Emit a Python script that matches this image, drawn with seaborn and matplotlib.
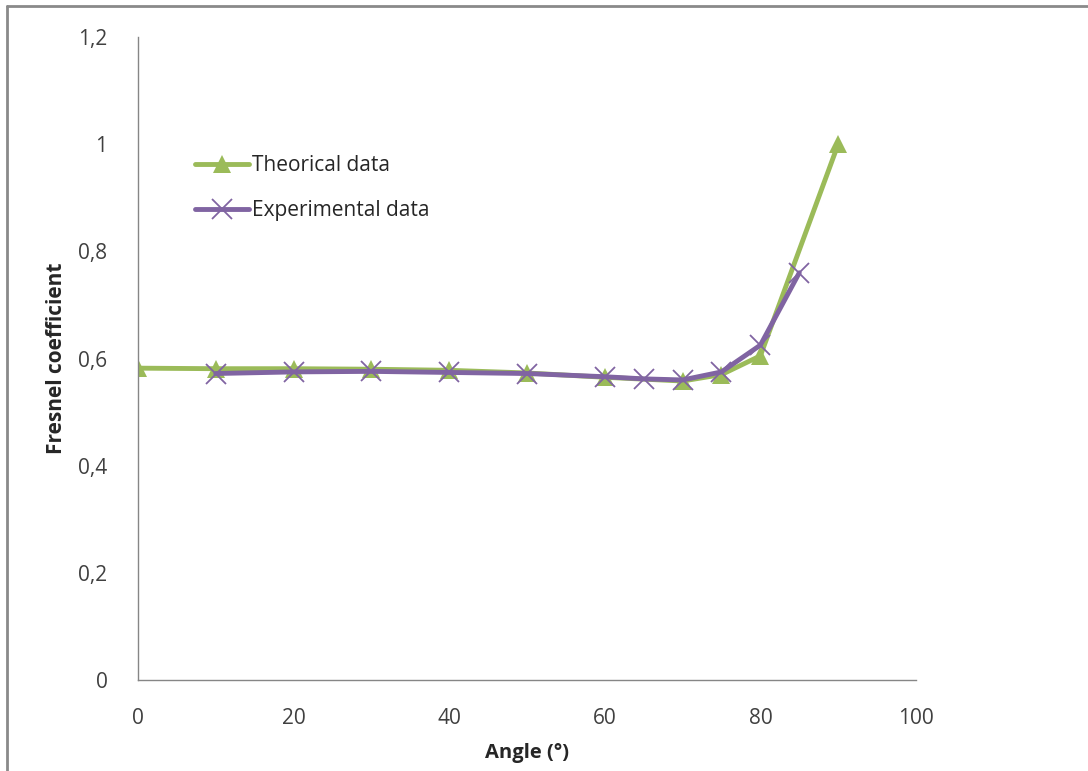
import pandas as pd
import matplotlib.pyplot as plt
import seaborn as sns
from matplotlib.lines import Line2D

# values
theo_angle = [0, 10, 20, 30, 40, 50, 60, 70, 75, 80, 90]
theo_coef = [0.582, 0.581, 0.581, 0.580, 0.578, 0.573, 0.565, 0.558, 0.570, 0.605, 1.0]

exp_angle = [10, 20, 30, 40, 50, 60, 65, 70, 75, 80, 85]
exp_coef = [0.572, 0.575, 0.576, 0.574, 0.572, 0.566, 0.562, 0.560, 0.575, 0.625, 0.760]

y_ticks = [0, 0.2, 0.4, 0.6, 0.8, 1.0, 1.2]
y_tick_labels = ["0", "0,2", "0,4", "0,6", "0,8", "1", "1,2"]
x_ticks = [0, 20, 40, 60, 80, 100]

sns.set_style("white")
plt.rcParams["font.family"] = ["Open Sans", "DejaVu Sans"]

green = "#9BBB59"
purple = "#8064A2"

fig = plt.figure(figsize=(10.88, 7.71), dpi=100)
ax = fig.add_axes([0.1268, 0.118, 0.7151, 0.834])

theo = pd.DataFrame({"angle": theo_angle, "coef": theo_coef})
expe = pd.DataFrame({"angle": exp_angle, "coef": exp_coef})

sns.lineplot(data=theo, x="angle", y="coef", ax=ax, color=green, linewidth=3.5,
             marker="^", markersize=13, markeredgewidth=0, label="Theorical data")
sns.lineplot(data=expe, x="angle", y="coef", ax=ax, color=purple, linewidth=3.5,
             marker="x", markersize=14, markeredgewidth=1.3,
             markeredgecolor=purple, label="Experimental data")

ax.set_xlim(0, 100)
ax.set_ylim(0, 1.2)
ax.set_xticks(x_ticks)
ax.set_yticks(y_ticks)
ax.set_yticklabels(y_tick_labels)
ax.tick_params(axis="both", length=0, labelsize=15, colors="#404040")
ax.tick_params(axis="x", pad=20)
ax.tick_params(axis="y", pad=22)

for s in ["top", "right"]:
    ax.spines[s].set_visible(False)
for s in ["left", "bottom"]:
    ax.spines[s].set_color("#868686")
    ax.spines[s].set_linewidth(1)

ax.set_xlabel("Angle (°)", fontsize=14.5, fontweight="bold", labelpad=10)
ax.set_ylabel("Fresnel coefficient", fontsize=15, fontweight="bold", labelpad=8)

ax.legend(loc="center left", bbox_to_anchor=(0.073, 0.765), frameon=False,
          fontsize=15, handlelength=2.6, handletextpad=0.15, labelspacing=1.15,
          borderaxespad=0, borderpad=0)

# outer frame like the original screenshot
fig.add_artist(Line2D([0.006, 0.006], [0, 0.992], color="#8a8a8a", linewidth=2,
                      transform=fig.transFigure))
fig.add_artist(Line2D([0.006, 1.0], [0.992, 0.992], color="#8a8a8a", linewidth=2,
                      transform=fig.transFigure))

plt.savefig("out.png", dpi=100)
plt.close()
